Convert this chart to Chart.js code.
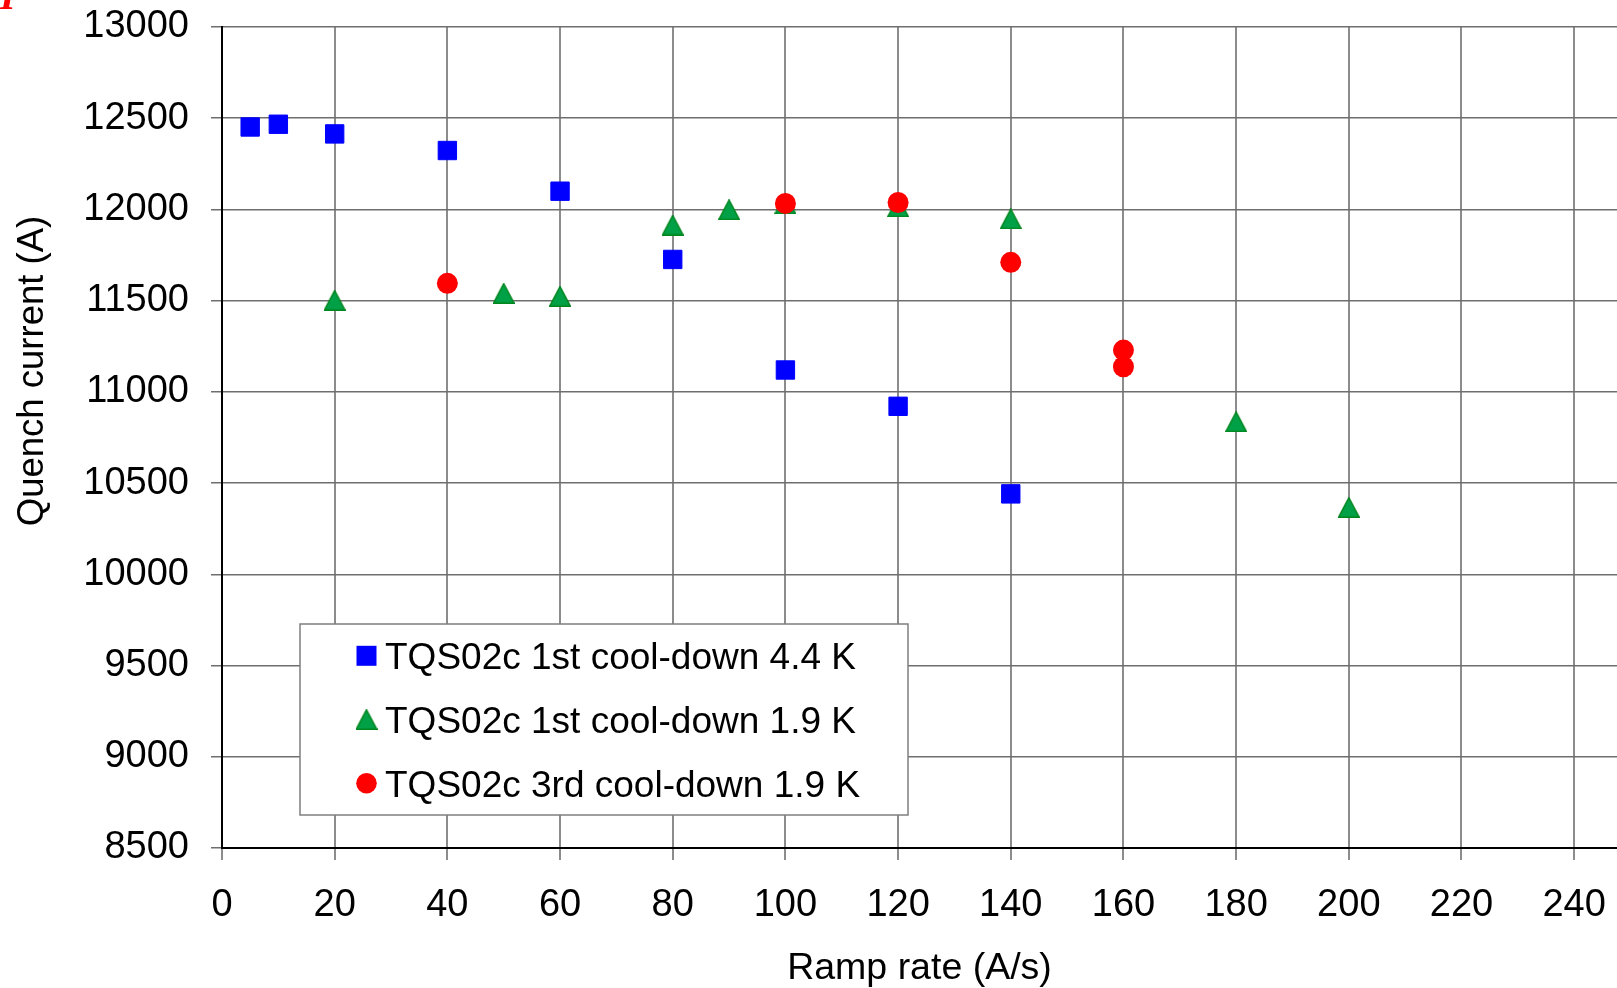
<!DOCTYPE html>
<html>
<head>
<meta charset="utf-8">
<script src="https://cdn.jsdelivr.net/npm/chart.js@4.4.0/dist/chart.umd.min.js"></script>
<style>
  html, body { margin: 0; padding: 0; background: #fff; }
  #wrap { width: 1617px; height: 988px; }
</style>
</head>
<body>
<div id="wrap"><canvas id="quenchChart" width="1617" height="988"></canvas></div>
<script>
// ramp rate (A/s) and quench current (A) per series
var rate44 = [5, 10, 20, 40, 60, 80, 100, 120, 140];
var quench44 = [12452, 12467, 12414, 12323, 12100, 11726, 11120, 10921, 10441];

var rate19 = [20, 50, 60, 80, 90, 100, 120, 140, 180, 200];
var quench19 = [11502, 11540, 11524, 11914, 11998, 12030, 12014, 11948, 10836, 10367];

var rate19c3 = [40, 100, 120, 140, 160, 160];
var quench19c3 = [11595, 12033, 12038, 11710, 11229, 11138];

var seriesNames = ['TQS02c 1st cool-down 4.4 K', 'TQS02c 1st cool-down 1.9 K', 'TQS02c 3rd cool-down 1.9 K'];
var xTitle = 'Ramp rate (A/s)';
var yTitle = 'Quench current (A)';

var xMin = 0, xMax = 247.6, xStep = 20;
var yMin = 8500, yMax = 13000, yStep = 500;

var fontFamily = "'Liberation Sans', Arial, Helvetica, sans-serif";

function toPoints(xs, ys) {
    return xs.map(function (x, i) { return { x: x, y: ys[i] }; });
}

// excel style triangle marker (centred on the point, a bit taller than chart.js' own)
function makeTriangle(w, h, fill, stroke, lw) {
    var c = document.createElement('canvas');
    c.width = w;
    c.height = h;
    var g = c.getContext('2d');
    g.beginPath();
    g.moveTo(w / 2, lw / 2);
    g.lineTo(w - lw / 2, h - lw / 2);
    g.lineTo(lw / 2, h - lw / 2);
    g.closePath();
    g.fillStyle = fill;
    g.fill();
    g.lineWidth = lw;
    g.strokeStyle = stroke;
    g.stroke();
    return c;
}
var greenTriangle = makeTriangle(22, 21, '#00a046', '#00861e', 1.5);

// legend box drawn inside the plot, like the original
var boxLegend = {
    id: 'boxLegend',
    afterDatasetsDraw: function (chart) {
        var ctx = chart.ctx;
        var a = chart.chartArea;
        var bx = a.left + 78, by = a.top + 597, bw = 608, bh = 191;
        ctx.save();
        ctx.fillStyle = '#fff';
        ctx.fillRect(bx, by, bw, bh);
        ctx.strokeStyle = '#7f7f7f';
        ctx.lineWidth = 1.5;
        ctx.strokeRect(bx, by, bw, bh);
        chart.data.datasets.forEach(function (ds, i) {
            var baseY = by + 45.3 + i * 63.7;
            var mx = bx + 66.5, my = baseY - 13.5;
            ctx.fillStyle = ds.backgroundColor;
            ctx.beginPath();
            if (ds.pointStyle === 'rect') {
                ctx.rect(mx - 10, my - 10, 20, 20);
                ctx.fill();
            } else if (ds.pointStyle === 'circle') {
                ctx.arc(mx, my, 10.3, 0, Math.PI * 2);
                ctx.fill();
            } else {
                ctx.drawImage(ds.pointStyle, mx - ds.pointStyle.width / 2, my - ds.pointStyle.height / 2);
            }
            ctx.font = '37px ' + fontFamily;
            ctx.fillStyle = '#000';
            ctx.textAlign = 'left';
            ctx.textBaseline = 'alphabetic';
            ctx.fillText(ds.label, bx + 85, baseY);
        });
        ctx.restore();
    },
    afterDraw: function (chart) {
        var ctx = chart.ctx;
        var a = chart.chartArea;
        // y axis title, sits a bit above the middle of the axis
        ctx.save();
        ctx.translate(33, a.top + 344);
        ctx.rotate(-Math.PI / 2);
        ctx.font = '36.5px ' + fontFamily;
        ctx.fillStyle = '#000';
        ctx.textAlign = 'center';
        ctx.textBaseline = 'middle';
        ctx.fillText(yTitle, 0, 0);
        ctx.restore();
        // clipped red mark in the corner
        ctx.save();
        ctx.font = "italic bold 40px 'Liberation Serif', serif";
        ctx.fillStyle = '#ff0000';
        ctx.textBaseline = 'alphabetic';
        ctx.fillText('I', 0, 9);
        ctx.restore();
    }
};

var ctx = document.getElementById('quenchChart').getContext('2d');

var myChart = new Chart(ctx, {
    type: 'scatter',
    data: {
        datasets: [
            {
                label: seriesNames[0],
                data: toPoints(rate44, quench44),
                pointStyle: 'rect',
                pointRadius: 13,
                pointHoverRadius: 13,
                backgroundColor: '#0000ff',
                borderColor: '#0000ff',
                borderWidth: 1,
                order: 3
            },
            {
                label: seriesNames[1],
                data: toPoints(rate19, quench19),
                pointStyle: greenTriangle,
                pointRadius: 11,
                pointHoverRadius: 11,
                backgroundColor: '#00a046',
                borderColor: '#00861e',
                borderWidth: 1.5,
                order: 2
            },
            {
                label: seriesNames[2],
                data: toPoints(rate19c3, quench19c3),
                pointStyle: 'circle',
                pointRadius: 10.5,
                pointHoverRadius: 10.5,
                backgroundColor: '#ff0000',
                borderColor: '#ff0000',
                borderWidth: 0,
                order: 1
            }
        ]
    },
    options: {
        responsive: false,
        animation: false,
        devicePixelRatio: 1,
        layout: { autoPadding: false, padding: { top: 27, right: 0, bottom: 0, left: 0 } },
        plugins: {
            legend: { display: false },
            tooltip: { enabled: false },
            title: { display: false }
        },
        scales: {
            x: {
                type: 'linear',
                min: xMin,
                max: xMax,
                afterFit: function (scale) {
                    scale.height = 140;
                    scale.paddingLeft = 0;
                    scale.paddingRight = 0;
                },
                ticks: {
                    stepSize: xStep,
                    includeBounds: false,
                    maxRotation: 0,
                    autoSkip: false,
                    padding: 23,
                    color: '#000',
                    font: { family: fontFamily, size: 38 }
                },
                grid: {
                    color: '#8c8c8c',
                    lineWidth: 2,
                    tickLength: 12,
                    tickColor: '#8c8c8c'
                },
                border: { color: '#000', width: 2 },
                title: {
                    display: true,
                    text: xTitle,
                    color: '#000',
                    padding: 0,
                    font: { family: fontFamily, size: 37.5, lineHeight: 1.05 }
                }
            },
            y: {
                type: 'linear',
                min: yMin,
                max: yMax,
                afterFit: function (scale) {
                    scale.width = 222;
                    scale.paddingTop = 0;
                    scale.paddingBottom = 0;
                },
                ticks: {
                    stepSize: yStep,
                    padding: 22,
                    color: '#000',
                    font: { family: fontFamily, size: 38 },
                    callback: function (value) { return String(value); }
                },
                grid: {
                    color: '#6e6e6e',
                    lineWidth: 1.5,
                    tickLength: 11,
                    tickColor: '#6e6e6e'
                },
                border: { color: '#000', width: 2 },
                title: { display: false }
            }
        }
    },
    plugins: [boxLegend]
});
</script>
</body>
</html>
